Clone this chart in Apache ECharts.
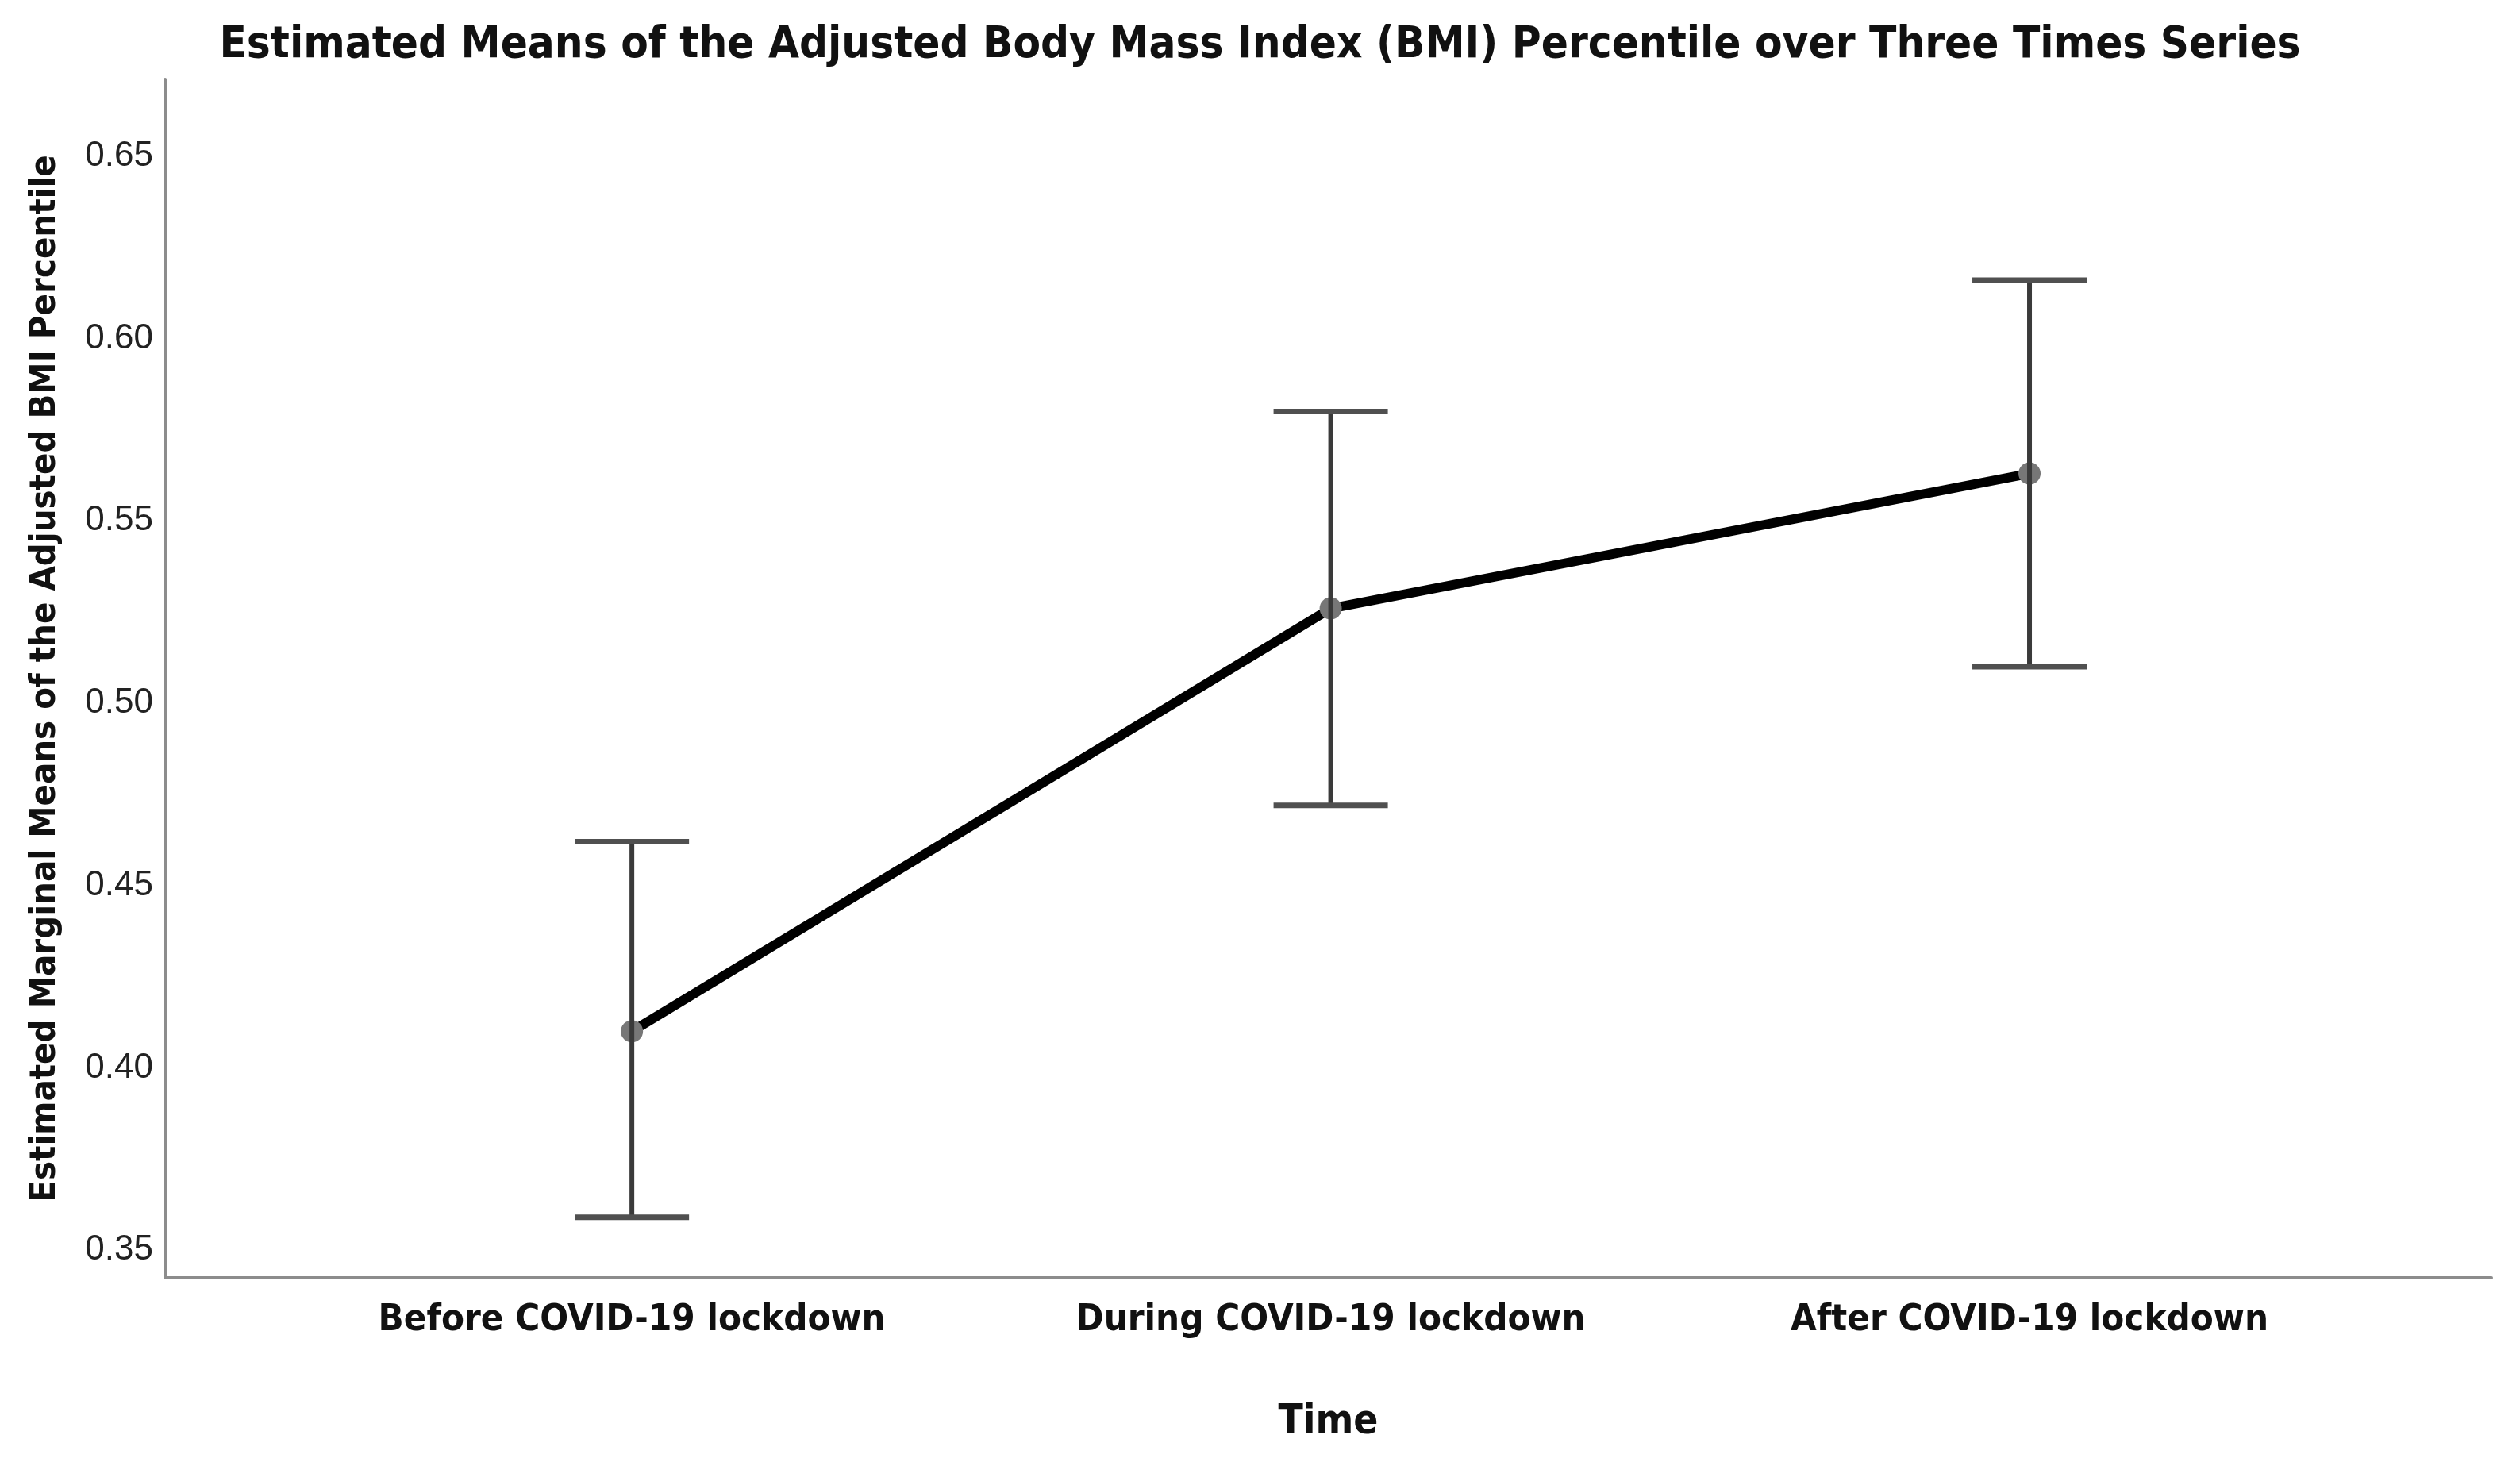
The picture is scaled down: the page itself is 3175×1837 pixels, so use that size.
<!DOCTYPE html>
<html>
<head>
<meta charset="utf-8">
<script src="https://cdn.jsdelivr.net/npm/echarts@6/dist/echarts.min.js"></script>
<style>
html,body{margin:0;padding:0;background:#fff;}
#chart{width:3175px;height:1837px;}
</style>
</head>
<body>
<div id="chart"></div>
<script>
var titleText = 'Estimated Means of the Adjusted Body Mass Index (BMI) Percentile over Three Times Series';
var xAxisName = 'Time';
var yAxisName = 'Estimated Marginal Means of the Adjusted BMI Percentile';
var categories = ['Before COVID-19 lockdown', 'During COVID-19 lockdown', 'After COVID-19 lockdown'];
var means = [0.410, 0.526, 0.563];
var lower = [0.359, 0.472, 0.510];
var upper = [0.462, 0.580, 0.616];
var yTicks = [0.35, 0.40, 0.45, 0.50, 0.55, 0.60, 0.65];

var narrow = "'DejaVu Sans Condensed', 'Liberation Sans Narrow', sans-serif";
var chart = echarts.init(document.getElementById('chart'), null, {renderer: 'canvas'});

var catIdx = categories.map(function (c, i) { return i; });
var meanData = means.map(function (v, i) { return [i, v]; });
var errData = catIdx.map(function (i) { return [i, lower[i], upper[i]]; });

var option = {
  backgroundColor: '#ffffff',
  animation: false,
  title: {
    text: titleText,
    left: 'center',
    top: 24,
    textStyle: {fontFamily: narrow, fontWeight: 'bold', fontSize: 56, color: '#111'}
  },
  grid: {left: 208, right: 36, top: 100, bottom: 227, containLabel: false},
  xAxis: {
    type: 'value',
    min: -0.668,
    max: 2.661,
    name: xAxisName,
    nameLocation: 'middle',
    nameGap: 157,
    nameTextStyle: {fontFamily: narrow, fontWeight: 'bold', fontSize: 51, color: '#111'},
    axisLine: {show: true, onZero: false, lineStyle: {color: '#8c8c8c', width: 4}},
    axisTick: {show: false},
    splitLine: {show: false},
    axisLabel: {
      customValues: catIdx,
      margin: 30,
      fontFamily: narrow, fontWeight: 'bold', fontSize: 47, color: '#111',
      formatter: function (v) { return categories[Math.round(v)] || ''; }
    }
  },
  yAxis: {
    type: 'value',
    min: 0.3424,
    max: 0.6711,
    name: yAxisName,
    nameLocation: 'middle',
    nameRotate: 90,
    nameGap: 128,
    nameTextStyle: {fontFamily: narrow, fontWeight: 'bold', fontSize: 45, color: '#111'},
    axisLine: {show: true, onZero: false, lineStyle: {color: '#8c8c8c', width: 4}},
    axisTick: {show: false},
    splitLine: {show: false},
    axisLabel: {
      customValues: yTicks,
      margin: 15,
      fontFamily: "'Liberation Sans', Arial, sans-serif", fontSize: 44, color: '#222',
      formatter: function (v) { return v.toFixed(2); }
    }
  },
  series: [
    {
      type: 'line',
      data: meanData,
      lineStyle: {color: '#000', width: 12},
      symbol: 'circle',
      symbolSize: 28,
      itemStyle: {color: '#777'},
      z: 2
    },
    {
      type: 'custom',
      data: errData,
      z: 3,
      renderItem: function (params, api) {
        var x = api.value(0);
        var lo = api.coord([x, api.value(1)]);
        var hi = api.coord([x, api.value(2)]);
        var hw = 72;
        return {
          type: 'group',
          children: [
            {type: 'line', shape: {x1: lo[0], y1: lo[1], x2: hi[0], y2: hi[1]}, style: {stroke: '#3a3a3a', lineWidth: 6}},
            {type: 'line', shape: {x1: hi[0] - hw, y1: hi[1], x2: hi[0] + hw, y2: hi[1]}, style: {stroke: '#505050', lineWidth: 7}},
            {type: 'line', shape: {x1: lo[0] - hw, y1: lo[1], x2: lo[0] + hw, y2: lo[1]}, style: {stroke: '#505050', lineWidth: 7}}
          ]
        };
      }
    }
  ]
};
chart.setOption(option);
</script>
</body>
</html>
